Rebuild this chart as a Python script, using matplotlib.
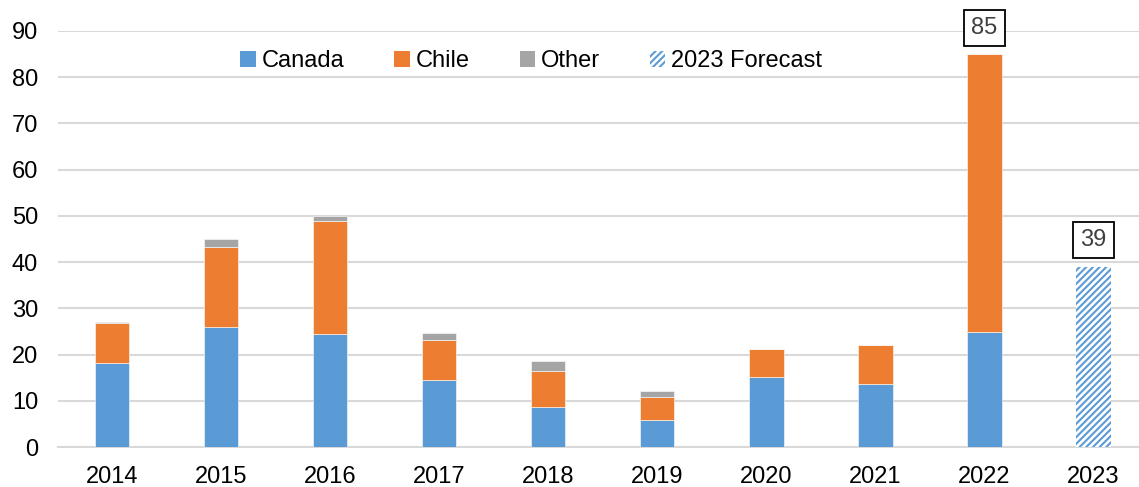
import numpy as np
import matplotlib
matplotlib.use('Agg')
import matplotlib.pyplot as plt
from matplotlib.patches import Patch

plt.rcParams['font.family'] = ['Liberation Sans', 'DejaVu Sans']
plt.rcParams['hatch.linewidth'] = 1.5

years = ['2014', '2015', '2016', '2017', '2018', '2019', '2020', '2021', '2022', '2023']
canada = [18.1, 25.9, 24.4, 14.5, 8.6, 5.8, 15.2, 13.7, 24.8, 0]
chile = [8.7, 17.3, 24.4, 8.6, 7.8, 5.0, 5.9, 8.3, 60.2, 0]
other = [0.3, 1.7, 1.2, 1.6, 2.2, 1.4, 0, 0, 0, 0]
forecast = [0, 0, 0, 0, 0, 0, 0, 0, 0, 39]
labels = {8: 85, 9: 39}

c_blue = '#5B9BD5'
c_orange = '#ED7D31'
c_gray = '#A5A5A5'

fig = plt.figure(figsize=(11.39, 4.87), dpi=100)
ax = fig.add_axes([57.5 / 1139, 40 / 487, (1139 - 57.5) / 1139, 416 / 487])

x = np.arange(len(years))
w = 0.315
canada = np.array(canada)
chile = np.array(chile)
other = np.array(other)

ax.bar(x, canada, w, color=c_blue, edgecolor='white', linewidth=0.4, zorder=3)
ax.bar(x, chile, w, bottom=canada, color=c_orange, edgecolor='white', linewidth=0.4, zorder=3)
ax.bar(x, other, w, bottom=canada + chile, color=c_gray, edgecolor='white', linewidth=0.4, zorder=3)
ax.bar(x, forecast, w, facecolor='white', edgecolor=c_blue, linewidth=0, hatch='/////', zorder=3)

# boxed totals above the last two bars
for i, v in labels.items():
    ax.annotate(str(v), (x[i], v), xytext=(0, 19), textcoords='offset points',
                ha='center', va='center', fontsize=17, color='#404040',
                bbox=dict(boxstyle='square,pad=0.3', fc='white', ec='black', lw=1.3),
                zorder=5)

ax.set_ylim(0, 90)
ax.set_xlim(-0.5, 9.5 - 9 / 109)
ax.set_yticks(range(0, 91, 10))
ax.set_xticks(x)
ax.set_xticklabels(years)
ax.tick_params(axis='both', length=0, labelsize=17, colors='black')
ax.tick_params(axis='y', pad=14)
ax.tick_params(axis='x', pad=14)
ax.grid(axis='y', color='#d9d9d9', linewidth=1.5, zorder=0)
for s in ['top', 'right', 'left']:
    ax.spines[s].set_visible(False)
ax.spines['bottom'].set_color('#d9d9d9')
ax.spines['bottom'].set_linewidth(1.5)

handles = [
    Patch(facecolor=c_blue, label='Canada'),
    Patch(facecolor=c_orange, label='Chile'),
    Patch(facecolor=c_gray, label='Other'),
    Patch(facecolor='white', edgecolor=c_blue, linewidth=0, hatch='/////', label='2023 Forecast'),
]
ax.legend(handles=handles, loc='center', bbox_to_anchor=(0.438, 0.928), ncol=4, frameon=False,
          fontsize=17, handlelength=0.65, handleheight=0.65, handletextpad=0.25,
          columnspacing=2.12, borderpad=0)

fig.savefig('out.png', dpi=100)
